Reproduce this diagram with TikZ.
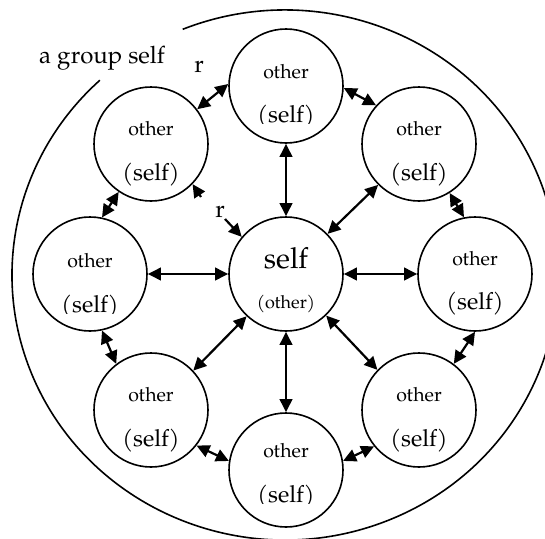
\documentclass[tikz,border=0pt]{standalone}
\usepackage{fontspec}
\setmainfont{TeX Gyre Pagella}
\usetikzlibrary{arrows.meta}
\begin{document}
\begin{tikzpicture}[x=1pt,y=-1pt,
  ring/.style={circle,draw,line width=1.6pt,minimum size=114pt,inner sep=0pt},
  link/.style={line width=2.2pt,{Triangle[length=13pt,width=12.5pt]}-{Triangle[length=13pt,width=12.5pt]}},
  onelink/.style={line width=2.2pt,-{Triangle[length=13pt,width=12.5pt]}},
  othertxt/.style={anchor=base,inner sep=0pt,font=\fontsize{19.5}{24}\selectfont},
  selftxt/.style={anchor=base,inner sep=0pt,font=\fontsize{23.5}{28}\selectfont},
  bigtxt/.style={anchor=base,inner sep=0pt,font=\fontsize{29}{35}\selectfont},
  smalltxt/.style={anchor=base,inner sep=0pt,font=\fontsize{18}{22}\selectfont},
  labeltxt/.style={anchor=base,inner sep=0pt,font=\fontsize{24}{29}\selectfont}]
\clip (0,0) rectangle (545,538);
% outer group boundary
\draw[line width=1.6pt] (182.7,29.3) arc[start angle=248,end angle=587.3,x radius=273,y radius=265];
\node[labeltxt] (grp) at (102,63) {a group self};
% circles
\node[ring] (C)  at (286,274) {};
\node[ring] (T)  at (286,86) {};
\node[ring] (TL) at (151,144) {};
\node[ring] (TR) at (419,144) {};
\node[ring] (L)  at (90,274) {};
\node[ring] (R)  at (475,274) {};
\node[ring] (BL) at (151,410) {};
\node[ring] (B)  at (286,470) {};
\node[ring] (BR) at (419,410) {};
% texts
\node[bigtxt]   (Cs) at (286,268) {self};
\node[smalltxt] (Co) at (286,308) {(other)};
\node[othertxt] (To)  at (286,78) {other};
\begin{scope}\clip (200,0) rectangle (380,123);
\node[selftxt] (Ts) at (286,122) {(self)};
\end{scope}
\node[othertxt] (TLo) at (151,135) {other};
\node[selftxt]  (TLs) at (151,180) {(self)};
\node[othertxt] (TRo) at (419,135) {other};
\node[selftxt]  (TRs) at (419,180) {(self)};
\node[othertxt] (Lo)  at (90,267) {other};
\begin{scope}\clip (0,200) rectangle (200,313);
\node[selftxt] (Ls) at (90,312) {(self)};
\end{scope}
\node[othertxt] (Ro)  at (475,265) {other};
\node[selftxt]  (Rs)  at (475,309) {(self)};
\node[othertxt] (BLo) at (151,401) {other};
\node[selftxt]  (BLs) at (151,446) {(self)};
\node[othertxt] (Bo)  at (286,457) {other};
\begin{scope}\clip (200,420) rectangle (380,503);
\node[selftxt] (Bs) at (286,502) {(self)};
\end{scope}
\node[othertxt] (BRo) at (419,401) {other};
\node[selftxt]  (BRs) at (419,446) {(self)};
% r labels
\node[labeltxt] (r1) at (199,72) {r};
\node[labeltxt] (r2) at (220,217) {r};
% connectors
\draw[link] (T.-90) -- (C.90);
\draw[link] (TR.225) -- (C.44);
\draw[link] (T.-2) -- (TR.138);
\draw[link] (TR.-58) -- (R.101);
\draw[link] (TL.37) -- (T.178);
\draw[link] (TL.236) -- (L.78);
\draw[link] (L.0) -- (C.180);
\draw[link] (C.0) -- (R.180);
\draw[link] (L.-78) -- (BL.127);
\draw[link] (BL.43) -- (C.227);
\draw[link] (C.-90) -- (B.90);
\draw[link] (C.-46) -- (BR.136);
\draw[link] (R.-90) -- (BR.53);
\draw[link] (BL.-38) -- (B.171);
\draw[link] (BR.219) -- (B.9);
\coordinate (rs) at (225,219);
\draw[onelink] (rs) -- (C.140);
\coordinate (hs) at (201,197);
\draw[onelink] (hs) -- (TL.-44);
\end{tikzpicture}
\end{document}
